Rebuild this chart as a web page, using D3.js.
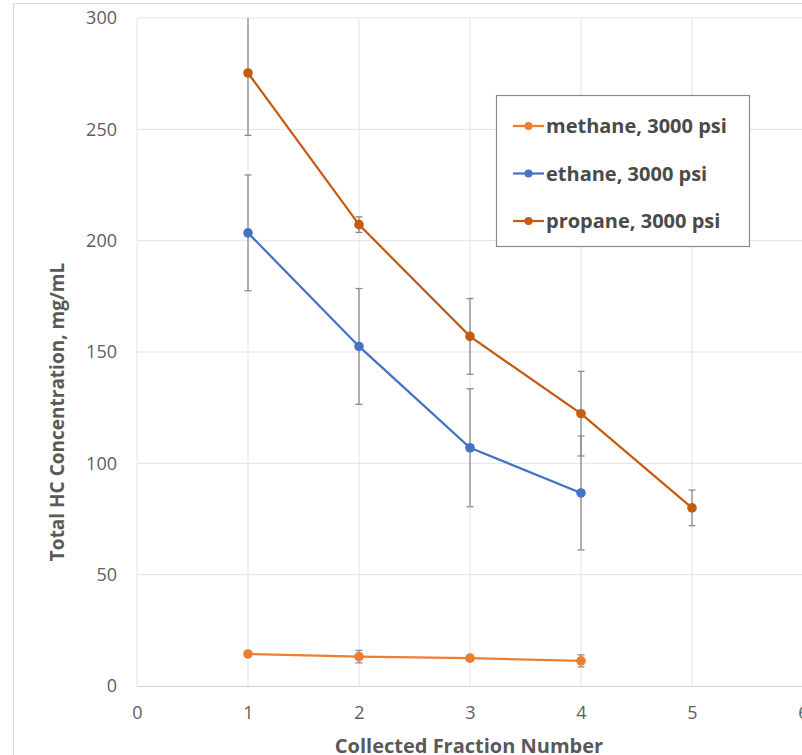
<!DOCTYPE html>
<html>

<head>
  <title>Total HC Concentration</title>
  <style>
    body { margin: 0; background: #fff; }
    text { font-family: "Open Sans", Lato, sans-serif; }
  </style>
</head>

<body>
  <svg id="main" width="802" height="755"></svg>

  <script src="https://cdn.jsdelivr.net/npm/d3@7.0.1/dist/d3.min.js"></script>
  <script>
    const fractions = [1, 2, 3, 4, 5]
    const seriesNames = ['methane, 3000 psi', 'ethane, 3000 psi', 'propane, 3000 psi']
    const seriesColors = ['#ED7D31', '#4472C4', '#C55A11']

    const methane = [14.4, 13.2, 12.5, 11.3]
    const methaneErr = [0.6, 2.8, 1.4, 2.7]
    const ethane = [203.5, 152.5, 107, 86.7]
    const ethaneErr = [26, 26, 26.5, 25.6]
    const propane = [275.3, 207.2, 157, 122.3, 80]
    const propaneErr = [28, 3.5, 17, 19, 8]

    const xTicks = [0, 1, 2, 3, 4, 5, 6]
    const yTicks = [0, 50, 100, 150, 200, 250, 300]

    const series = [
      { name: seriesNames[0], color: seriesColors[0], values: methane, errs: methaneErr },
      { name: seriesNames[1], color: seriesColors[1], values: ethane, errs: ethaneErr },
      { name: seriesNames[2], color: seriesColors[2], values: propane, errs: propaneErr }
    ].map(s => ({
      ...s,
      points: s.values.map((v, i) => ({ x: fractions[i], y: v, e: s.errs[i] }))
    }))

    const svg = d3.select('#main')
    const margin = { top: 18, left: 137 }
    const plotW = 666
    const plotH = 668

    // outer chart frame
    svg.append('path').attr('d', 'M13.5,755V3.5H802')
      .attr('fill', 'none').attr('stroke', '#d9d9d9')

    const g = svg.append('g').attr('transform', `translate(${margin.left}, ${margin.top})`)

    const xScale = d3.scaleLinear().domain([0, 6]).range([0, plotW])
    const yScale = d3.scaleLinear().domain([0, 300]).range([plotH, 0])

    svg.append('defs').append('clipPath').attr('id', 'plotclip')
      .append('rect').attr('x', 0).attr('y', 0).attr('width', plotW).attr('height', plotH)

    // gridlines
    g.append('g').selectAll('line').data(yTicks.filter(d => d > 0)).join('line')
      .attr('x1', 0).attr('x2', plotW)
      .attr('y1', d => yScale(d)).attr('y2', d => yScale(d))
      .attr('stroke', '#e3e3e3').attr('stroke-width', 1)
    g.append('g').selectAll('line').data(xTicks).join('line')
      .attr('x1', d => xScale(d)).attr('x2', d => xScale(d))
      .attr('y1', 0).attr('y2', plotH)
      .attr('stroke', '#e3e3e3').attr('stroke-width', 1)

    // axes
    const xAxis = d3.axisBottom(xScale).tickValues(xTicks).tickFormat(d3.format('d'))
      .tickSize(0).tickPadding(20)
    const yAxis = d3.axisLeft(yScale).tickValues(yTicks).tickFormat(d3.format('d'))
      .tickSize(0).tickPadding(20)

    const gx = g.append('g').attr('transform', `translate(0, ${plotH})`).call(xAxis)
    gx.select('.domain').attr('stroke', '#d0d0d0').attr('stroke-width', 1.2)
    const gy = g.append('g').call(yAxis)
    gy.select('.domain').remove()
    g.selectAll('.tick text').attr('font-size', 18).attr('fill', '#606060')
      .attr('font-family', '"Open Sans", sans-serif')

    // series
    const plot = g.append('g').attr('clip-path', 'url(#plotclip)')
    const line = d3.line().x(d => xScale(d.x)).y(d => yScale(d.y))

    series.forEach(s => {
      const sg = plot.append('g')
      sg.selectAll('.err').data(s.points).join('line').attr('class', 'err')
        .attr('x1', d => xScale(d.x)).attr('x2', d => xScale(d.x))
        .attr('y1', d => yScale(d.y + d.e)).attr('y2', d => yScale(d.y - d.e))
        .attr('stroke', '#8c8c8c').attr('stroke-width', 1.3)
      sg.selectAll('.cap').data(s.points.flatMap(d => [d.y + d.e, d.y - d.e].map(v => ({ x: d.x, v }))))
        .join('line').attr('class', 'cap')
        .attr('x1', d => xScale(d.x) - 3.5).attr('x2', d => xScale(d.x) + 3.5)
        .attr('y1', d => yScale(d.v)).attr('y2', d => yScale(d.v))
        .attr('stroke', '#8c8c8c').attr('stroke-width', 1.3)
      sg.append('path').datum(s.points).attr('d', line)
        .attr('fill', 'none').attr('stroke', s.color).attr('stroke-width', 2.25)
      sg.selectAll('circle').data(s.points).join('circle')
        .attr('cx', d => xScale(d.x)).attr('cy', d => yScale(d.y)).attr('r', 4.8)
        .attr('fill', s.color)
    })

    // axis titles
    svg.append('text').text('Collected Fraction Number')
      .attr('x', 469).attr('y', 753).attr('text-anchor', 'middle')
      .attr('font-size', 20).attr('font-weight', 'bold').attr('fill', '#595959')
    svg.append('text').text('Total HC Concentration, mg/mL')
      .attr('transform', 'translate(64, 412) rotate(-90)').attr('text-anchor', 'middle')
      .attr('font-size', 19).attr('font-weight', 'bold').attr('fill', '#595959')

    // legend
    const lg = svg.append('g').attr('transform', 'translate(496, 95)')
    lg.append('rect').attr('x', 0.5).attr('y', 0.5).attr('width', 253).attr('height', 151)
      .attr('fill', '#fff').attr('stroke', '#8a8a8a').attr('stroke-width', 1.2)
    series.forEach((s, i) => {
      const row = lg.append('g').attr('transform', `translate(0, ${31 + i * 47.5})`)
      row.append('line').attr('x1', 17).attr('x2', 48).attr('y1', 0).attr('y2', 0)
        .attr('stroke', s.color).attr('stroke-width', 2.25)
      row.append('circle').attr('cx', 32.5).attr('cy', 0).attr('r', 4).attr('fill', s.color)
      row.append('text').text(s.name).attr('x', 50).attr('y', 7)
        .attr('font-size', 20).attr('font-weight', 'bold').attr('fill', '#4a4a4a')
    })
  </script>
</body>

</html>
